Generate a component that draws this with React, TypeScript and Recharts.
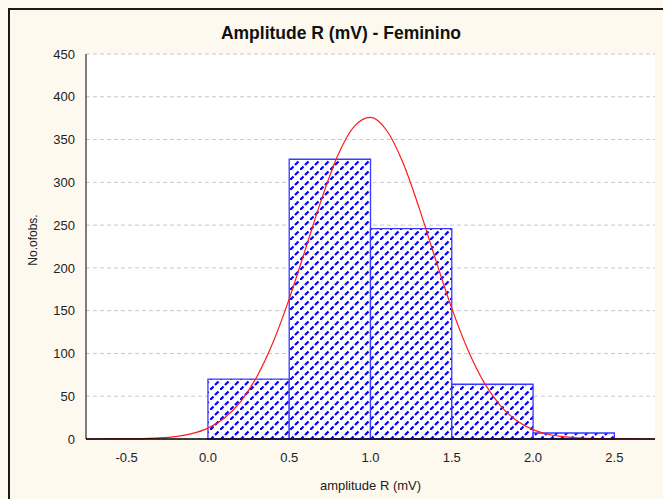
import React from 'react';
import {
    ComposedChart, Line, XAxis, YAxis, CartesianGrid, ReferenceArea
} from 'recharts';

// histogram bins (mV) and counts
const binStart = [0.0, 0.5, 1.0, 1.5, 2.0];
const binEnd = [0.5, 1.0, 1.5, 2.0, 2.5];
const binCounts = [70, 327, 246, 64, 7];

// fitted normal curve
const curveX = [
    -0.75, -0.7, -0.6, -0.5, -0.4, -0.3, -0.2, -0.1, 0.0, 0.1, 0.2, 0.3, 0.4, 0.5, 0.6, 0.7, 0.8, 0.9,
    1.0, 1.1, 1.2, 1.3, 1.4, 1.5, 1.6, 1.7, 1.8, 1.9, 2.0, 2.1, 2.2, 2.3, 2.4, 2.5, 2.6, 2.7, 2.75
];
const curveY = [
    0.01, 0.02, 0.06, 0.17, 0.47, 1.2, 2.8, 6.2, 12.7, 24.3, 43.4, 72.4, 112.7, 163.8, 222, 281, 332, 365.5,
    376, 360.6, 322.8, 269.6, 210, 152.7, 103.8, 65.6, 38.8, 21.4, 11.0, 5.3, 2.4, 1.0, 0.38, 0.14, 0.05, 0.02, 0.01
];

const xTicks = [-0.5, 0, 0.5, 1, 1.5, 2, 2.5];
const yTicks = [0, 50, 100, 150, 200, 250, 300, 350, 400, 450];

const FONT = '"Liberation Sans", Arial, sans-serif';
const X_DOMAIN = [-0.75, 2.75];
const Y_DOMAIN = [0, 450];

const NoTick = () => <g />;

export default function App() {
    const data = curveX.map((x, i) => ({ x, y: curveY[i] }));

    return (
        <div style={{ position: 'fixed', left: 0, top: 0, width: 663, height: 499, overflow: 'hidden', background: '#fdf9ef', fontFamily: FONT }}>
            <div style={{ position: 'absolute', left: 8, top: 8, width: 700, height: 600, border: '2px solid #1a1a1a', boxSizing: 'border-box' }} />
            <div style={{ position: 'absolute', left: 0, top: 22, width: 682, textAlign: 'center', fontSize: 17.5, lineHeight: '22px', fontWeight: 'bold', color: '#111' }}>
                Amplitude R (mV) - Feminino
            </div>
            <div style={{ position: 'absolute', left: 33, top: 240, transform: 'translate(-50%, -50%) rotate(-90deg)', whiteSpace: 'nowrap', fontSize: 12, color: '#222' }}>
                No.ofobs.
            </div>
            <ComposedChart
                width={663}
                height={499}
                data={data}
                margin={{ top: 54, right: 8, bottom: 0, left: 0 }}
                style={{ position: 'absolute', left: 0, top: 0 }}
            >
                <defs>
                    {/* blue dashed "/" hatch on white */}
                    <pattern id="hatch" patternUnits="userSpaceOnUse" width={10} height={10}>
                        <rect x={0} y={0} width={10} height={10} fill="#ffffff" />
                        <line x1={0} y1={10} x2={10} y2={0} stroke="#0000ff" strokeWidth={2.2} strokeDasharray="5 2.07" />
                    </pattern>
                </defs>
                <CartesianGrid
                    xAxisId="main"
                    yAxisId="left"
                    vertical={false}
                    fill="#ffffff"
                    stroke="#c8c8c8"
                    strokeDasharray="4 3"
                />
                <XAxis
                    xAxisId="main"
                    dataKey="x"
                    type="number"
                    domain={X_DOMAIN}
                    ticks={xTicks}
                    allowDataOverflow
                    height={60}
                    tickLine={false}
                    tickSize={0}
                    tickMargin={14}
                    tickFormatter={(v) => v.toFixed(1)}
                    tick={{ fontSize: 13, fill: '#222', fontFamily: FONT }}
                    axisLine={{ stroke: '#000', strokeWidth: 1.5 }}
                    label={{ value: 'amplitude R (mV)', position: 'insideBottom', offset: 9, fontSize: 13, fill: '#222', fontFamily: FONT }}
                />
                <XAxis
                    xAxisId="inner"
                    type="number"
                    domain={X_DOMAIN}
                    ticks={xTicks}
                    allowDataOverflow
                    height={0}
                    mirror
                    tickSize={4}
                    tick={NoTick}
                    tickLine={{ stroke: '#000' }}
                    axisLine={false}
                />
                <XAxis
                    xAxisId="top"
                    orientation="top"
                    type="number"
                    domain={X_DOMAIN}
                    ticks={xTicks}
                    allowDataOverflow
                    height={0}
                    mirror
                    tickSize={4}
                    tick={NoTick}
                    tickLine={{ stroke: '#000' }}
                    axisLine={{ stroke: '#000' }}
                />
                <YAxis
                    yAxisId="left"
                    type="number"
                    domain={Y_DOMAIN}
                    ticks={yTicks}
                    width={86}
                    tickLine={false}
                    tickSize={0}
                    tickMargin={11}
                    tick={{ fontSize: 13, fill: '#222', fontFamily: FONT }}
                    axisLine={{ stroke: '#000' }}
                />
                <YAxis
                    yAxisId="right"
                    orientation="right"
                    type="number"
                    domain={Y_DOMAIN}
                    ticks={yTicks}
                    width={0}
                    mirror
                    tickSize={4}
                    tick={NoTick}
                    tickLine={{ stroke: '#000' }}
                    axisLine={{ stroke: '#000' }}
                />
                {binCounts.map((count, i) => (
                    <ReferenceArea
                        key={`bin-${i}`}
                        xAxisId="main"
                        yAxisId="left"
                        x1={binStart[i]}
                        x2={binEnd[i]}
                        y1={0}
                        y2={count}
                        fill="url(#hatch)"
                        fillOpacity={1}
                        stroke="#3a3aff"
                        strokeWidth={1.3}
                    />
                ))}
                <Line
                    xAxisId="main"
                    yAxisId="left"
                    dataKey="y"
                    type="monotone"
                    stroke="#ff1a1a"
                    strokeWidth={1.2}
                    dot={false}
                    activeDot={false}
                    isAnimationActive={false}
                />
            </ComposedChart>
        </div>
    );
}
